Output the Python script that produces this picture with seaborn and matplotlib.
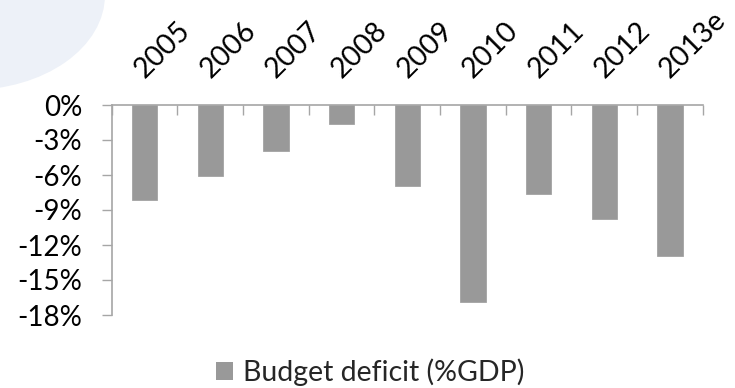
import matplotlib
matplotlib.use("Agg")
import matplotlib.pyplot as plt
from matplotlib.patches import Patch, Ellipse
from matplotlib.ticker import FixedLocator, FuncFormatter
import seaborn as sns
import pandas as pd

years = ["2005", "2006", "2007", "2008", "2009", "2010", "2011", "2012", "2013e"]
deficit = [-8.1, -6.1, -3.9, -1.6, -6.9, -16.9, -7.6, -9.8, -12.9]
y_ticks = [0, -3, -6, -9, -12, -15, -18]
series_name = "Budget deficit (%GDP)"

BAR = "#999999"
AXIS = "#a6a6a6"

sns.set_theme(style="white")
plt.rcParams["font.family"] = ["Lato", "DejaVu Sans"]

W, H = 735, 388
fig = plt.figure(figsize=(W / 100, H / 100), dpi=100)
ax = fig.add_axes([111.7 / W, 1 - 315 / H, (702.7 - 111.7) / W, 210 / H])
ax.patch.set_alpha(0)

# soft tinted shape in the top-left corner of the slide background
fig.patches.append(Ellipse((-30 / W, 1 + 5 / H), 270 / W, 190 / H,
                           transform=fig.transFigure, facecolor="#edf1f8",
                           edgecolor="none", zorder=-2))

df = pd.DataFrame({"year": years, "deficit": deficit})
sns.barplot(data=df, x="year", y="deficit", color=BAR, width=0.385,
            saturation=1, edgecolor="#a3a3a3", linewidth=0.6, ax=ax)

ax.set_xlim(-0.5, len(years) - 0.5)
ax.set_ylim(-18, 0)
ax.set_xlabel("")
ax.set_ylabel("")

# category axis along the top (y = 0)
ax.xaxis.tick_top()
ax.xaxis.set_minor_locator(FixedLocator([i - 0.5 for i in range(len(years) + 1)]))
ax.tick_params(axis="x", which="major", length=0, pad=19, labelsize=20.5,
               labelcolor="black")
ax.tick_params(axis="x", which="minor", top=True, bottom=False, direction="in",
               length=7.2, width=1, color=AXIS)
for lab in ax.get_xticklabels():
    lab.set_rotation(45)
    lab.set_rotation_mode("anchor")
    lab.set_horizontalalignment("left")
    lab.set_verticalalignment("baseline")

ax.set_yticks(y_ticks)
ax.yaxis.set_major_formatter(FuncFormatter(lambda v, _: f"{v:.0f}%"))
ax.tick_params(axis="y", which="major", left=True, direction="out", length=7.2,
               width=1, color=AXIS, pad=14, labelsize=20, labelcolor="black")

for side in ("bottom", "right"):
    ax.spines[side].set_visible(False)
for side in ("top", "left"):
    ax.spines[side].set_visible(True)
    ax.spines[side].set_color(AXIS)
    ax.spines[side].set_linewidth(1.2)

fig.legend(handles=[Patch(facecolor=BAR, edgecolor="none", label=series_name)],
           loc="center", bbox_to_anchor=(370 / W, 1 - 372 / H), frameon=False,
           fontsize=20.5, handlelength=0.6, handleheight=0.6, handletextpad=0.36,
           borderaxespad=0)

fig.savefig("out.png", dpi=100)
